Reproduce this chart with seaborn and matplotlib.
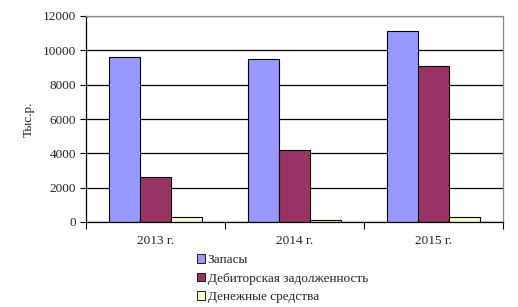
import matplotlib
matplotlib.use("Agg")
import matplotlib.pyplot as plt
import seaborn as sns
import pandas as pd
from matplotlib.patches import Patch

categories = ["2013 г.", "2014 г.", "2015 г."]
series_names = ["Запасы", "Дебиторская задолженность", "Денежные средства"]
zapasy = [9600, 9500, 11100]
debitor = [2620, 4180, 9070]
dengi = [280, 120, 280]
colors = ["#9999FF", "#993366", "#FFFFCC"]
yticks = [0, 2000, 4000, 6000, 8000, 10000, 12000]

rows = []
for name, vals in zip(series_names, [zapasy, debitor, dengi]):
    for c, v in zip(categories, vals):
        rows.append({"cat": c, "series": name, "value": v})
df = pd.DataFrame(rows)

sns.set_style("white")
plt.rcParams['font.family'] = ['Liberation Serif', 'DejaVu Serif']

fig = plt.figure(figsize=(5.18, 3.07), dpi=100)
ax = fig.add_axes([86/518, 1-222/307, (503-86)/518, (222-16)/307])

sns.barplot(data=df, x="cat", y="value", hue="series", hue_order=series_names,
            palette=colors, width=0.67, gap=0, edgecolor="black", linewidth=0.8,
            saturation=1, ax=ax, legend=False)

ax.set_xlim(-0.5, 2.5)
ax.set_ylim(0, 12000)
ax.set_yticks(yticks)
ax.set_yticklabels([str(t) for t in yticks], fontsize=9.5)
ax.yaxis.grid(True, color="black", linewidth=0.9)
ax.set_axisbelow(True)
ax.set_xlabel("")
ax.set_ylabel("Тыс.р.", fontsize=9.5, labelpad=6)
ax.tick_params(axis="y", length=4, width=0.8, color="black", pad=3, left=True)
ax.set_xticks([0, 1, 2])
ax.set_xticklabels(categories, fontsize=9.5)
ax.tick_params(axis="x", length=0, pad=9)
ax.set_xticks([-0.5, 0.5, 1.5, 2.5], minor=True)
ax.tick_params(axis="x", which="minor", length=5, width=0.8, color="black", bottom=True)

for s in ["left", "bottom"]:
    ax.spines[s].set_color("black")
    ax.spines[s].set_linewidth(0.9)
for s in ["top", "right"]:
    ax.spines[s].set_color("#888888")
    ax.spines[s].set_linewidth(0.9)
    ax.spines[s].set_visible(True)

handles = [Patch(facecolor=c, edgecolor="black", linewidth=0.6, label=n)
           for c, n in zip(colors, series_names)]
fig.legend(handles=handles, loc="upper left", bbox_to_anchor=(197/518, 1-254/307),
           frameon=False, fontsize=9.5, handlelength=0.6, handleheight=0.6,
           handletextpad=0.2, labelspacing=0.5, borderaxespad=0, borderpad=0)

fig.savefig("out.png", dpi=100)
